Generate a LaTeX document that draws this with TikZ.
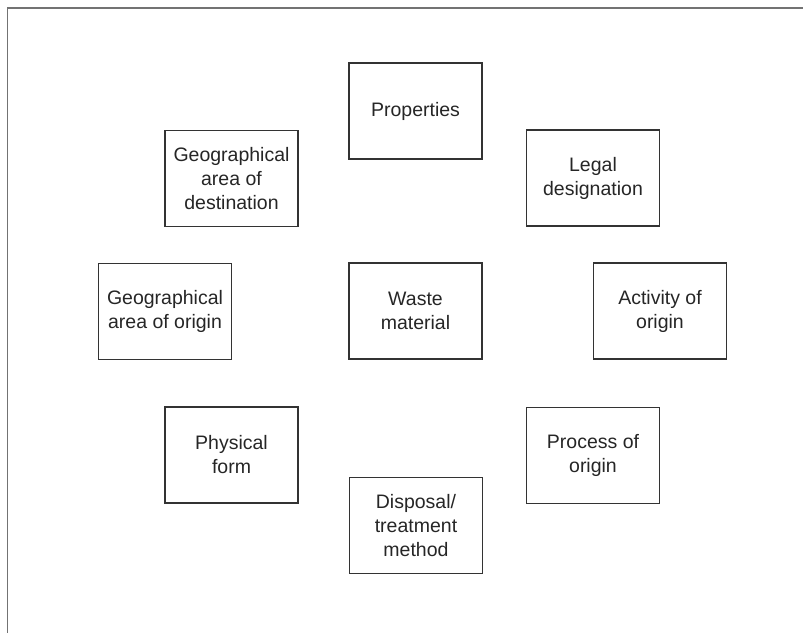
\documentclass[tikz,border=0pt]{standalone}
\usepackage{fontspec}
\setmainfont{Liberation Sans}
\begin{document}
\begin{tikzpicture}[x=1pt,y=-1pt,
  itembox/.style={draw=black!80, line width=1.4pt, minimum width=133pt, minimum height=96pt,
    align=center, inner sep=0pt, text=black!85,
    font=\fontsize{19.5pt}{24pt}\selectfont}]
\useasboundingbox (0,0) rectangle (803,632);
\fill[white] (0,0) rectangle (803,632);
\draw[black!55, line width=1.6pt] (7.5,640) -- (7.5,8) -- (810,8);
\node[itembox] (prop) at (415.5,111) {Properties};
\node[itembox] (legal) at (593,178) {Legal\\designation};
\node[itembox] (gdest) at (231.5,178.5) {Geographical\\area of\\destination};
\node[itembox] (gorig) at (165,311.5) {Geographical\\area of origin};
\node[itembox] (waste) at (415.5,311) {Waste\\material};
\node[itembox] (act) at (660,311) {Activity of\\origin};
\node[itembox] (phys) at (231.5,455) {Physical\\form};
\node[itembox] (proc) at (593,455.5) {Process of\\origin};
\node[itembox] (disp) at (416,525.5) {Disposal/\\treatment\\method};
\end{tikzpicture}
\end{document}
